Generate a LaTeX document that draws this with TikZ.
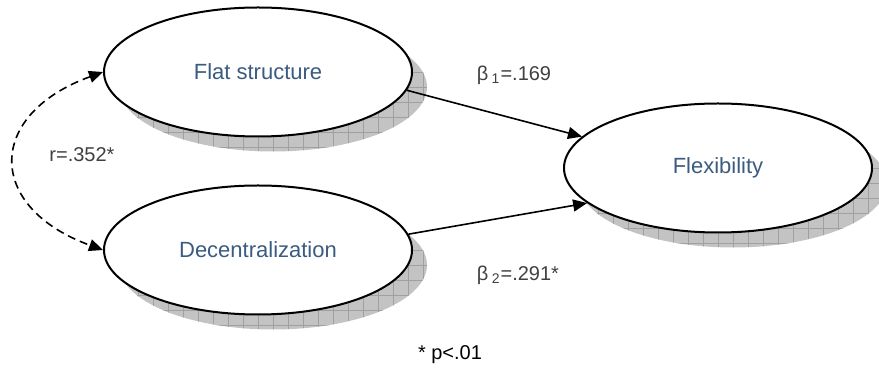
\documentclass[tikz,border=0pt]{standalone}
\usepackage{fontspec}
\setmainfont{Liberation Sans}
\usetikzlibrary{shapes.geometric,arrows.meta}
\definecolor{FXText}{HTML}{3B5B80}
\definecolor{FXLabel}{HTML}{404040}
\definecolor{FXShade}{HTML}{C3C3C3}
\definecolor{FXGrid}{HTML}{A0A0A0}

\begin{document}
\begin{tikzpicture}[x=0.5pt,y=-0.5pt,
  latent/.style={ellipse,draw,line width=1pt,fill=white,inner sep=0pt,
    minimum width=154pt,minimum height=64.5pt,text=FXText,
    font=\fontsize{11}{13}\selectfont},
  coef/.style={text=FXLabel,font=\fontsize{10}{12}\selectfont},
  gridline/.style={FXGrid,line width=0.35pt},
  effect/.style={line width=0.8pt,-{Triangle[length=7pt,width=6pt]}}]
\path[use as bounding box] (0,0) rectangle (879,373);
% shadows
\foreach \cx/\cy in {258/72,258/250,718/168}{
  \fill[FXShade] (\cx+15,\cy+15) ellipse[x radius=77pt,y radius=32.25pt];
  \begin{scope}
    \clip (\cx+15,\cy+15) ellipse[x radius=77pt,y radius=32.25pt];
    \foreach \gx in {-150,-135,...,180}
      \draw[gridline] (\cx+\gx,\cy-60) -- ++(0,150);
    \foreach \gy in {-60,-45,...,90}
      \draw[gridline] (\cx-150,\cy+\gy) -- ++(330,0);
  \end{scope}
}
\node[latent] (flat) at (258,72) {Flat structure};
\node[latent] (decent) at (258,250) {Decentralization};
\node[latent] (flex) at (718,168) {Flexibility};
\draw[effect] (flat.-7) -- (flex.167);
\draw[effect] (decent.6) -- (flex.195);
\draw[line width=0.8pt,dash pattern=on 4pt off 2.5pt,
  {Triangle[length=7pt,width=6pt]}-{Triangle[length=7pt,width=6pt]}]
  (flat.west) to[out=200,in=160,looseness=1.8] (decent.west);
\node[coef] (b1) at (514,75) {β\,\textsubscript{1}=.169};
\node[coef] (b2) at (518,275) {β\,\textsubscript{2}=.291*};
\node[coef] (r) at (82,155) {r=.352*};
\node[font=\fontsize{10}{12}\selectfont] (note) at (450,355) {* p<.01};
\end{tikzpicture}
\end{document}
